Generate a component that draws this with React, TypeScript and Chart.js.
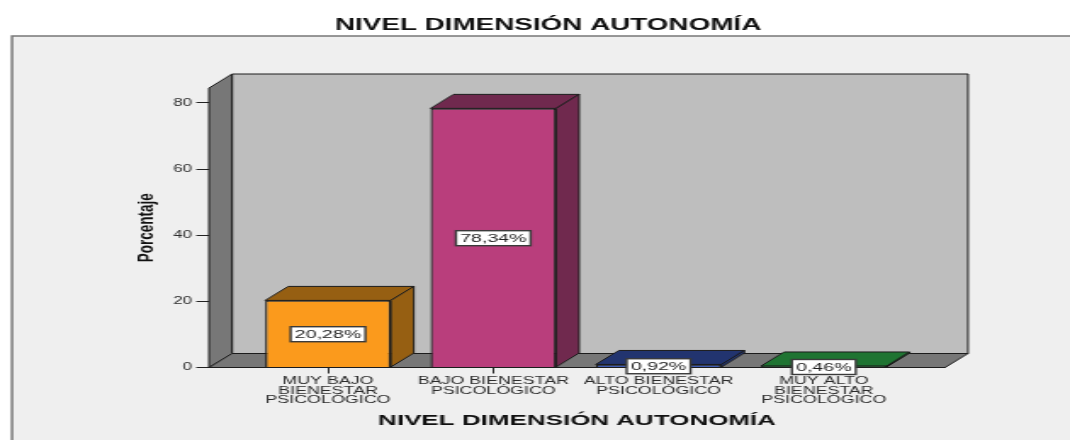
import React, { useEffect, useRef } from "react";
import { Chart, registerables } from "chart.js";

Chart.register(...registerables);

const categories = [
  ["MUY BAJO", "BIENESTAR", "PSICOLÓGICO"],
  ["BAJO BIENESTAR", "PSICOLÓGICO"],
  ["ALTO BIENESTAR", "PSICOLÓGICO"],
  ["MUY ALTO", "BIENESTAR", "PSICOLÓGICO"],
];
const percentages = [20.28, 78.34, 0.92, 0.46];
const valueLabels = ["20,28%", "78,34%", "0,92%", "0,46%"];
const frontColors = ["#fb9a1c", "#b93e7c", "#3f5cb4", "#1a5a2a"];
const shadeColors = ["#965f12", "#70294e", "#22346f", "#1f7432"];
const yTicksMax = 84.5;

// The whole drawing is laid out narrow and widened by this factor.
const WIDE = 1070 / 630;
const FONT = "'Liberation Sans', Arial, sans-serif";
const DEPTH_X = 23 / WIDE;
const DEPTH_Y = 14;
const PAD_LEFT = 89;

function polygon(ctx: CanvasRenderingContext2D, pts: number[][], fill: string, stroke = "#1c1c1c", lw = 1) {
  ctx.beginPath();
  pts.forEach(([x, y], i) => (i ? ctx.lineTo(x, y) : ctx.moveTo(x, y)));
  ctx.closePath();
  ctx.fillStyle = fill;
  ctx.fill();
  ctx.lineWidth = lw;
  ctx.strokeStyle = stroke;
  ctx.stroke();
}

const box3d = {
  id: "box3d",
  beforeDraw(chart: any) {
    const ctx = chart.ctx as CanvasRenderingContext2D;
    ctx.save();
    // Grey panel behind the plot, open on the right and bottom.
    ctx.fillStyle = "#efefef";
    ctx.fillRect(12 / WIDE, 36, chart.width, chart.height);
    ctx.strokeStyle = "#777";
    ctx.lineWidth = 1.5;
    ctx.beginPath();
    ctx.moveTo(12 / WIDE, chart.height);
    ctx.lineTo(12 / WIDE, 36);
    ctx.lineTo(chart.width, 36);
    ctx.stroke();
    ctx.restore();
  },
  beforeDatasetsDraw(chart: any) {
    const ctx = chart.ctx as CanvasRenderingContext2D;
    const { left, right, top, bottom } = chart.chartArea;
    const dx = DEPTH_X;
    const dy = DEPTH_Y;
    ctx.save();
    // Back wall, left wall and floor of the box.
    polygon(ctx, [[left + dx, top - dy], [right + dx, top - dy], [right + dx, bottom - dy], [left + dx, bottom - dy]], "#bebebe");
    polygon(ctx, [[left, top], [left + dx, top - dy], [left + dx, bottom - dy], [left, bottom]], "#777777");
    polygon(ctx, [[left, bottom], [left + dx, bottom - dy], [right + dx, bottom - dy], [right, bottom]], "#777777");
    // Top and side faces of each bar.
    chart.getDatasetMeta(0).data.forEach((bar: any, i: number) => {
      const l = bar.x - bar.width / 2;
      const r = bar.x + bar.width / 2;
      polygon(ctx, [[l, bar.y], [l + dx, bar.y - dy], [r + dx, bar.y - dy], [r, bar.y]], shadeColors[i]);
      polygon(ctx, [[r, bar.y], [r + dx, bar.y - dy], [r + dx, bar.base - dy], [r, bar.base]], shadeColors[i]);
    });
    ctx.restore();
  },
  afterDraw(chart: any) {
    const ctx = chart.ctx as CanvasRenderingContext2D;
    ctx.save();
    ctx.font = `11.5px ${FONT}`;
    ctx.textAlign = "center";
    ctx.textBaseline = "middle";
    chart.getDatasetMeta(0).data.forEach((bar: any, i: number) => {
      const cy = (bar.y + bar.base) / 2 + 0.5;
      const w = ctx.measureText(valueLabels[i]).width + 5;
      ctx.fillStyle = "#ffffff";
      ctx.fillRect(bar.x - w / 2, cy - 7.5, w, 15);
      ctx.strokeStyle = "#3a3a3a";
      ctx.lineWidth = 1.4;
      ctx.strokeRect(bar.x - w / 2, cy - 7.5, w, 15);
      ctx.fillStyle = "#222";
      ctx.fillText(valueLabels[i], bar.x, cy + 0.5);
    });
    ctx.restore();
  },
};

export default function App() {
  const ref = useRef<HTMLCanvasElement>(null);

  useEffect(() => {
    const chart = new Chart(ref.current!, {
      type: "bar",
      data: {
        datasets: [
          {
            data: percentages.map((y, i) => ({ x: i + 1, y })),
            backgroundColor: frontColors,
            borderColor: "#1c1c1c",
            borderWidth: 1.3,
            barPercentage: 0.76,
            categoryPercentage: 1,
          },
        ],
      },
      options: {
        responsive: false,
        animation: false,
        layout: { padding: { left: PAD_LEFT, right: 630 - 945 / WIDE, top: 0, bottom: 0 } },
        plugins: {
          legend: { display: false },
          tooltip: { enabled: false },
          title: {
            display: true,
            text: "NIVEL DIMENSIÓN AUTONOMÍA",
            color: "#111",
            font: { family: FONT, size: 16.4, weight: "bold", lineHeight: 1.2 },
            padding: { top: 16, bottom: 88 - 16 - 19.68 },
          },
        },
        scales: {
          x: {
            type: "linear",
            offset: false,
            min: 0.28,
            max: 4.733,
            afterBuildTicks: (axis: any) => {
              axis.ticks = categories.map((_, i) => ({ value: i + 1 }));
            },
            afterFit: (axis: any) => {
              axis.height = 440 - 367.5;
            },
            grid: { offset: false, drawOnChartArea: false, color: "#222", tickLength: 6 },
            border: { display: true, color: "#222" },
            ticks: {
              autoSkip: false,
              maxRotation: 0,
              padding: 2.5,
              color: "#2c2c2c",
              font: { family: FONT, size: 10.5, lineHeight: 0.93 },
              callback: (v: any) => categories[Number(v) - 1],
            },
            title: {
              display: true,
              text: "NIVEL DIMENSIÓN AUTONOMÍA",
              color: "#111",
              font: { family: FONT, size: 15.3, weight: "bold", lineHeight: 1.2 },
              padding: { top: 0, bottom: 10.5 },
            },
          },
          y: {
            min: 0,
            max: yTicksMax,
            afterFit: (axis: any) => {
              axis.width = 209 / WIDE - PAD_LEFT;
            },
            grid: { drawOnChartArea: false, color: "#222", tickLength: 7.5 },
            border: { display: true, color: "#222" },
            ticks: {
              stepSize: 20,
              includeBounds: false,
              padding: 2.5,
              color: "#2c2c2c",
              font: { family: FONT, size: 10 },
            },
            title: {
              display: true,
              text: "Porcentaje",
              color: "#111",
              font: { family: FONT, size: 13.5, weight: "bold", lineHeight: 1.2 },
              padding: { top: -11, bottom: 0 },
            },
          },
        },
      },
      plugins: [box3d],
    } as any);
    return () => chart.destroy();
  }, []);

  return (
    <canvas
      ref={ref}
      width={630}
      height={440}
      style={{
        position: "fixed",
        left: 0,
        top: 0,
        transformOrigin: "0 0",
        transform: `scaleX(${WIDE})`,
      }}
    />
  );
}
